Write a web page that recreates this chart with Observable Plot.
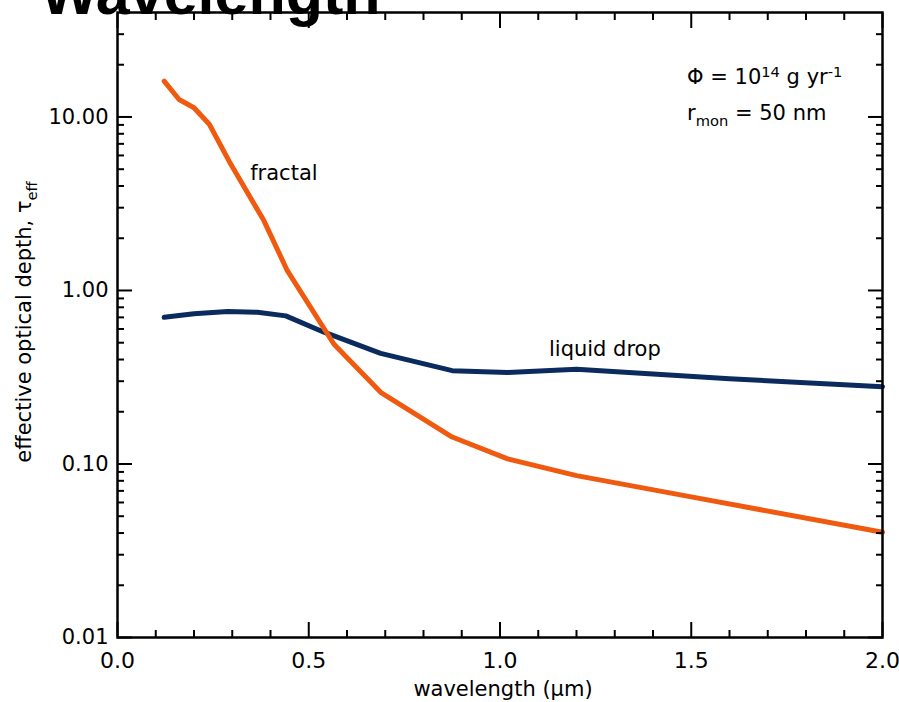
<!DOCTYPE html>
<html>
<head>
<meta charset="utf-8">
<script src="https://cdn.jsdelivr.net/npm/d3@7"></script>
<script src="https://cdn.jsdelivr.net/npm/@observablehq/plot@0.6"></script>
<style>
  html, body { margin: 0; padding: 0; background: #fff; overflow: hidden; }
  #chart svg { display: block; }
</style>
</head>
<body>
<div id="chart"></div>
<script>
// ---- data ----
const titleText = "Wavelength";
const xAxisTitle = "wavelength (μm)";
const yAxisTitle = "effective optical depth, τ_{eff}";

const fractalWavelength = [0.122, 0.161, 0.200, 0.240, 0.296, 0.383, 0.444, 0.566, 0.688, 0.875, 1.020, 1.200, 1.500, 2.000];
const fractalTau        = [16.1,  12.6,  11.3,  9.08,  5.35,  2.52,  1.30,  0.49,  0.259, 0.143, 0.107, 0.0857, 0.0646, 0.0404];

const liquidWavelength = [0.122, 0.200, 0.288, 0.366, 0.440, 0.540, 0.688, 0.875, 1.020, 1.200, 1.600, 2.000];
const liquidTau        = [0.700, 0.735, 0.757, 0.748, 0.714, 0.575, 0.434, 0.345, 0.337, 0.352, 0.310, 0.279];

const curveLabels = ["fractal", "liquid drop"];
const curveLabelX = [0.347, 1.128];
const curveLabelY = [4.31, 0.417];

const noteTexts = ["Φ = 10^{14} g yr^{-1}", "r_{mon} = 50 nm"];
const noteX = [1.489, 1.489];
const noteY = [15.5, 9.55];

const xMajorTicks = [0, 0.5, 1.0, 1.5, 2.0];
const xTickLabels = ["0.0", "0.5", "1.0", "1.5", "2.0"];
const xMinorTicks = [0.1, 0.2, 0.3, 0.4, 0.6, 0.7, 0.8, 0.9, 1.1, 1.2, 1.3, 1.4, 1.6, 1.7, 1.8, 1.9];

const yMajorTicks = [0.01, 0.1, 1, 10];
const yTickLabels = ["0.01", "0.10", "1.00", "10.00"];
const yMinorTicks = [0.02, 0.03, 0.04, 0.05, 0.06, 0.07, 0.08, 0.09,
                     0.2, 0.3, 0.4, 0.5, 0.6, 0.7, 0.8, 0.9,
                     2, 3, 4, 5, 6, 7, 8, 9, 20, 30];

// ---- tables ----
const fractal = fractalWavelength.map((w, i) => ({w, tau: fractalTau[i]}));
const liquid = liquidWavelength.map((w, i) => ({w, tau: liquidTau[i]}));
const labels = curveLabels.map((t, i) => ({t, x: curveLabelX[i], y: curveLabelY[i]}));
const notes = noteTexts.map((t, i) => ({t, x: noteX[i], y: noteY[i]}));

const ORANGE = "#EF5A10";
const NAVY = "#0B2B5E";
const FONT = "DejaVu Sans";

const tickStyle = {text: null, label: null, stroke: "black", strokeWidth: 2};

const chart = Plot.plot({
  width: 899,
  height: 702,
  marginLeft: 117,
  marginRight: 17,
  marginTop: 12,
  marginBottom: 65,
  style: {fontFamily: FONT, fontSize: "20px", background: "white", color: "black", overflow: "visible"},
  x: {domain: [0, 2]},
  y: {type: "log", domain: [0.01, 40]},
  marks: [
    Plot.line(liquid, {x: "w", y: "tau", stroke: NAVY, strokeWidth: 5, strokeLinejoin: "round"}),
    Plot.line(fractal, {x: "w", y: "tau", stroke: ORANGE, strokeWidth: 5, strokeLinejoin: "round"}),

    // inward ticks on all four sides
    Plot.axisX({anchor: "bottom", ticks: xMajorTicks, tickSize: -15, ...tickStyle}),
    Plot.axisX({anchor: "bottom", ticks: xMinorTicks, tickSize: -7, ...tickStyle}),
    Plot.axisX({anchor: "top", ticks: xMajorTicks, tickSize: -15, ...tickStyle}),
    Plot.axisX({anchor: "top", ticks: xMinorTicks, tickSize: -7, ...tickStyle}),
    Plot.axisY({anchor: "left", ticks: yMajorTicks, tickSize: -15, ...tickStyle}),
    Plot.axisY({anchor: "left", ticks: yMinorTicks, tickSize: -7, ...tickStyle}),
    Plot.axisY({anchor: "right", ticks: yMajorTicks, tickSize: -15, ...tickStyle}),
    Plot.axisY({anchor: "right", ticks: yMinorTicks, tickSize: -7, ...tickStyle}),

    // tick labels
    Plot.axisX({anchor: "bottom", ticks: xMajorTicks, tickSize: 0, tickPadding: 15, label: null,
                fontSize: 22, tickFormat: d => xTickLabels[xMajorTicks.indexOf(d)]}),
    Plot.axisY({anchor: "left", ticks: yMajorTicks, tickSize: 0, tickPadding: 9, label: null,
                fontSize: 21, tickFormat: d => yTickLabels[yMajorTicks.indexOf(d)]}),

    Plot.frame({stroke: "black", strokeWidth: 2.5}),

    // axis titles
    Plot.text([xAxisTitle], {frameAnchor: "bottom", dx: 3, dy: 58, lineAnchor: "bottom", textAnchor: "middle", fontSize: 21}),
    Plot.text([yAxisTitle], {frameAnchor: "left", rotate: -90, dx: -93, dy: -3, lineAnchor: "middle", textAnchor: "middle", fontSize: 21}),

    // annotations
    Plot.text(labels, {x: "x", y: "y", text: "t", textAnchor: "start", lineAnchor: "bottom", fontSize: 21}),
    Plot.text(notes, {x: "x", y: "y", text: "t", textAnchor: "start", lineAnchor: "bottom", fontSize: 21}),

    // clipped title at the top
    Plot.text([titleText], {frameAnchor: "top-left", dx: -77, dy: 1, lineAnchor: "bottom", textAnchor: "start",
                            fontSize: 61, fontWeight: "bold", fontFamily: "Liberation Sans"})
  ]
});

// turn ^{..} and _{..} markup into real superscript / subscript tspans
function richify(el) {
  const s = el.textContent;
  if (!/[\^_]\{/.test(s)) return;
  while (el.firstChild) el.removeChild(el.firstChild);
  const NS = "http://www.w3.org/2000/svg";
  const re = /([\^_])\{([^}]*)\}/g;
  let last = 0, m, pending = 0;
  const add = (txt, dy, small) => {
    const t = document.createElementNS(NS, "tspan");
    t.textContent = txt;
    if (dy) t.setAttribute("dy", dy);
    if (small) t.setAttribute("font-size", "70%");
    el.appendChild(t);
  };
  while ((m = re.exec(s))) {
    if (m.index > last) { add(s.slice(last, m.index), pending, false); pending = 0; }
    const shift = m[1] === "^" ? -7 : 6;
    add(m[2], shift + pending, true);
    pending = -shift;
    last = re.lastIndex;
  }
  if (last < s.length) add(s.slice(last), pending, false);
}
chart.querySelectorAll("text").forEach(el => {
  if (el.children.length === 0) richify(el);
});

document.getElementById("chart").appendChild(chart);
</script>
</body>
</html>
